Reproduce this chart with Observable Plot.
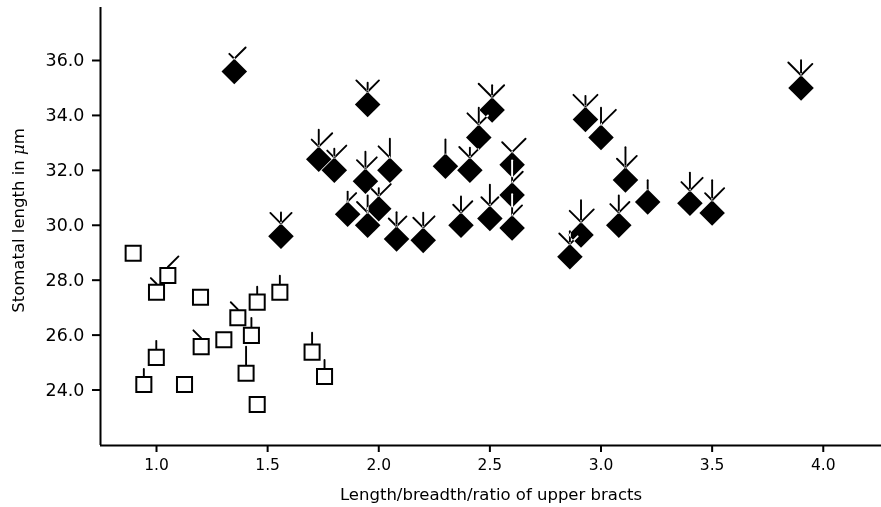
<!DOCTYPE html>
<html><head><meta charset="utf-8">
<script src="https://cdn.jsdelivr.net/npm/d3@7"></script>
<script src="https://cdn.jsdelivr.net/npm/@observablehq/plot@0.6"></script>
<style>body{margin:0;background:#fff;}</style>
</head><body><div id="chart"></div>
<script>
// Closed diamonds: x = length/breadth ratio, y = stomatal length, plus three glyph rays (score)
const diamondX     = [1.35, 1.56, 1.95, 1.73, 1.80, 1.94, 2.05, 1.86, 1.95, 2.00, 2.08, 2.20, 2.30, 2.41, 2.45, 2.51, 2.60, 2.60, 2.60, 2.50, 2.37, 2.93, 3.00, 3.11, 3.21, 3.08, 2.91, 2.86, 3.40, 3.50, 3.90];
const diamondY     = [35.6, 29.6, 34.4, 32.4, 32.0, 31.6, 32.0, 30.4, 30.0, 30.6, 29.5, 29.45, 32.15, 32.0, 33.2, 34.2, 32.2, 31.1, 29.9, 30.25, 30.0, 33.85, 33.2, 31.65, 30.85, 30.0, 29.65, 28.85, 30.8, 30.45, 35.0];
const diamondLeft  = [7, 15, 16, 10, 10, 12, 16, 0, 15, 10, 11, 14, 0, 15, 16, 19, 14, 0, 0, 12, 11, 17, 0, 12, 0, 12, 16, 15, 12, 10, 18];
const diamondUp    = [0, 11, 9, 17, 9, 17, 19, 10, 17, 8, 14, 15, 14, 10, 17, 12, 0, 22, 21, 21, 16, 11, 17, 20, 9, 17, 22, 13, 18, 20, 15];
const diamondRight = [16, 15, 16, 19, 17, 16, 0, 12, 0, 17, 14, 16, 0, 12, 13, 17, 19, 15, 14, 12, 16, 17, 21, 16, 0, 15, 18, 11, 18, 17, 16];

// Open squares
const squareX     = [0.895, 1.051, 1.00, 1.198, 1.453, 1.366, 1.427, 1.303, 1.201, 0.999, 0.943, 1.126, 1.403, 1.453, 1.555, 1.70, 1.756];
const squareY     = [28.98, 28.17, 27.56, 27.38, 27.2, 26.63, 25.99, 25.83, 25.58, 25.19, 24.2, 24.2, 24.61, 23.47, 27.56, 25.38, 24.49];
const squareLeft  = [0, 0, 8, 0, 0, 10, 0, 0, 11, 0, 0, 0, 0, 0, 0, 0, 0];
const squareUp    = [0, 0, 0, 0, 7, 0, 9, 0, 0, 8, 7, 0, 18, 0, 8, 11, 8];
const squareRight = [0, 15, 0, 0, 0, 0, 0, 0, 0, 0, 0, 0, 0, 0, 0, 0, 0];

const xTicks = [1.0, 1.5, 2.0, 2.5, 3.0, 3.5, 4.0];
const yTicks = [24, 26, 28, 30, 32, 34, 36];
const xDomain = [0.748, 4.262];
const yDomain = [21.98, 37.93];
const xLabel = "Length/breadth/ratio of upper bracts";
const yLabel = "Stomatal length in μm";

const pts = (xs, ys) => xs.map((x, i) => ({x, y: ys[i]}));
function rays(xs, ys, L, U, R) {
  const out = [];
  xs.forEach((x, i) => {
    [[L[i], -45], [U[i], 0], [R[i], 45]].forEach(([len, rot]) => {
      if (len > 0) out.push({x, y: ys[i], len, rot});
    });
  });
  return out;
}
const diamonds = pts(diamondX, diamondY);
const squares = pts(squareX, squareY);
const diamondRays = rays(diamondX, diamondY, diamondLeft, diamondUp, diamondRight);
const squareRays = rays(squareX, squareY, squareLeft, squareUp, squareRight);

const ray = {draw(context, l) { context.moveTo(0, 0); context.lineTo(0, -l); }};

const plot = Plot.plot({
  width: 881, height: 507,
  marginLeft: 100, marginRight: 0, marginTop: 7, marginBottom: 62,
  style: {fontFamily: "DejaVu Sans", background: "#fff", color: "#000"},
  x: {domain: xDomain},
  y: {domain: yDomain},
  length: {domain: [0, 20], range: [0, 20]},
  marks: [
    Plot.axisY({ticks: yTicks, tickFormat: ".1f", tickSize: 8, tickPadding: 8, fontSize: 17.5, strokeWidth: 2, label: null}),
    Plot.axisX({ticks: xTicks, tickFormat: ".1f", tickSize: 7, tickPadding: 6, fontSize: 15.5, strokeWidth: 2, label: null}),
    Plot.ruleX([xDomain[0]], {strokeWidth: 2}),
    Plot.ruleY([yDomain[0]], {strokeWidth: 2}),
    Plot.dot(squares, {x: "x", y: "y", symbol: "square", r: 8.5, stroke: "black", strokeWidth: 2, fill: "white"}),
    Plot.vector(squareRays, {x: "x", y: "y", length: "len", rotate: "rot", anchor: "start", shape: ray, stroke: "black", strokeWidth: 1.9, dy: -8.5}),
    Plot.dot(diamonds, {x: "x", y: "y", symbol: "diamond2", r: 11.5, fill: "black", stroke: "none"}),
    Plot.vector(diamondRays, {x: "x", y: "y", length: "len", rotate: "rot", anchor: "start", shape: ray, stroke: "white", strokeWidth: 1.9, dy: -12.7, mixBlendMode: "difference"}),
    Plot.text([yLabel], {text: d => d, frameAnchor: "left", textAnchor: "middle", lineAnchor: "middle", rotate: -90, dx: -82, dy: -6, fontSize: 16.5}),
    Plot.text([xLabel], {text: d => d, frameAnchor: "bottom", textAnchor: "middle", lineAnchor: "bottom", dy: 54, fontSize: 16.5})
  ]
});
for (const t of plot.querySelectorAll("text")) {
  if (t.textContent === yLabel) {
    t.innerHTML = "Stomatal length in <tspan font-style='italic' font-family='DejaVu Serif'>μ</tspan>m";
  }
}
document.getElementById("chart").appendChild(plot);
</script>
</body></html>
